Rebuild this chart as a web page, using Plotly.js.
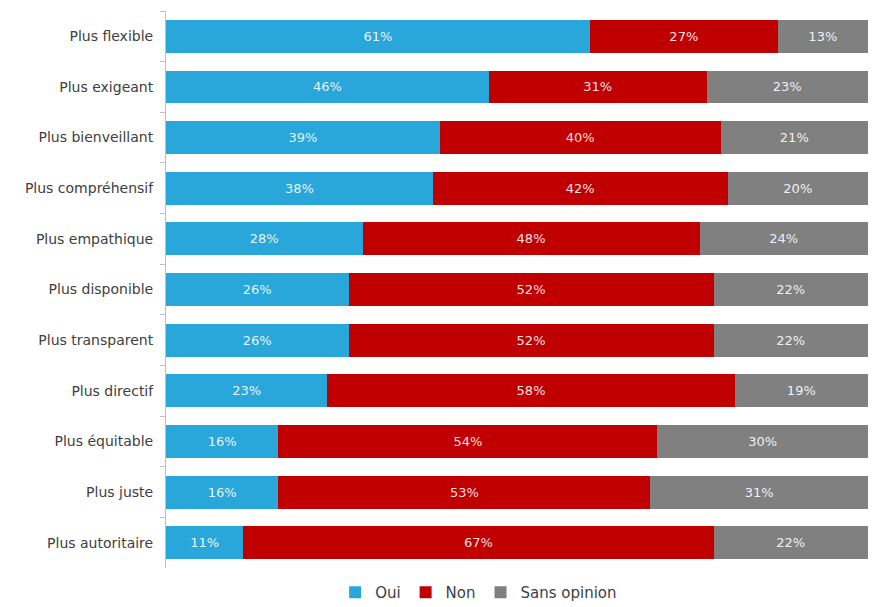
<!DOCTYPE html>
<html>
<head>
<meta charset="utf-8">
<script src="https://cdn.plot.ly/plotly-3.0.1.min.js"></script>
<style>html,body{margin:0;padding:0;background:#fff;}#chart{width:875px;height:607px;}</style>
</head>
<body>
<div id="chart"></div>
<script>
const categories = ["Plus flexible","Plus exigeant","Plus bienveillant","Plus compréhensif","Plus empathique","Plus disponible","Plus transparent","Plus directif","Plus équitable","Plus juste","Plus autoritaire"];
const oui = [61,46,39,38,28,26,26,23,16,16,11];
const non = [27,31,40,42,48,52,52,58,54,53,67];
const sansOpinion = [13,23,21,20,24,22,22,19,30,31,22];
const seriesNames = ["Oui","Non","Sans opinion"];
const colors = ["#29A7DB","#C00000","#808080"];

const FONT = "'DejaVu Sans', Verdana, sans-serif";
const series = [oui, non, sansOpinion];
const traces = series.map((vals, i) => ({
  type: "bar",
  orientation: "h",
  name: seriesNames[i],
  y: categories,
  x: vals,
  text: vals.map(v => v + "%"),
  textposition: "inside",
  insidetextanchor: "middle",
  textangle: 0,
  constraintext: "none",
  textfont: {family: FONT, size: 13, color: "rgba(255,255,255,0.9)"},
  marker: {color: colors[i], line: {width: 0}},
  hoverinfo: "none"
}));

const layout = {
  width: 875, height: 607,
  margin: {l: 166, r: 7, t: 11, b: 39, autoexpand: false},
  barmode: "stack",
  barnorm: "percent",
  bargap: 0.35,
  paper_bgcolor: "#fff",
  plot_bgcolor: "#fff",
  font: {family: FONT, color: "#404040", size: 14},
  xaxis: {visible: false, range: [0, 100], fixedrange: true},
  yaxis: {
    autorange: "reversed",
    type: "category",
    showline: true, linecolor: "#BFBFBF", linewidth: 1,
    ticks: "outside", tickson: "boundaries", ticklen: 5, tickcolor: "#BFBFBF",
    tickfont: {family: FONT, size: 14, color: "#404040"},
    ticklabelstandoff: 9,
    showgrid: false, zeroline: false
  },
  showlegend: true,
  legend: {
    orientation: "h",
    xref: "container", yref: "container",
    x: 0.383, xanchor: "left",
    y: 0.024, yanchor: "middle",
    font: {family: FONT, size: 15, color: "#404040"},
    traceorder: "normal"
  }
};

Plotly.newPlot("chart", traces, layout, {displayModeBar: false, staticPlot: true});
</script>
</body>
</html>
